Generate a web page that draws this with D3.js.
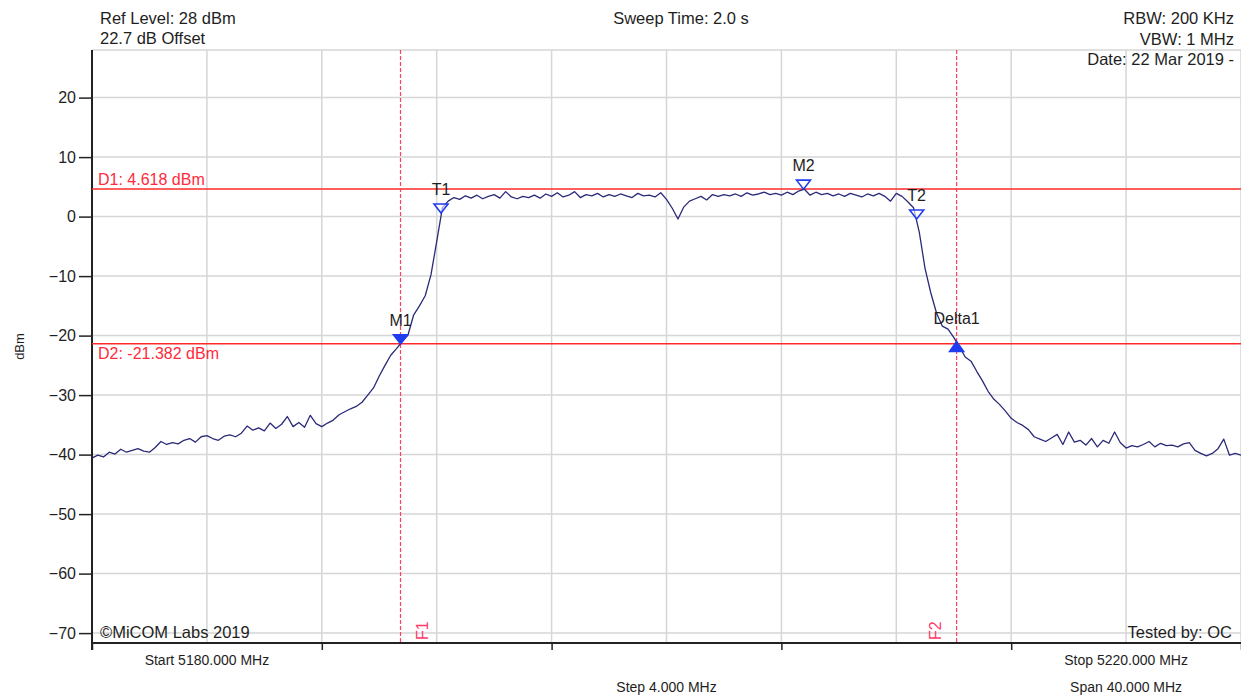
<!DOCTYPE html>
<html lang="en">
<head>
<meta charset="UTF-8">
<title>Spectrum Plot</title>
<script src="https://d3js.org/d3.v7.min.js"></script>
<style>
  body { margin: 0; background: #fff; font-family: "Liberation Sans", Arial, sans-serif; }
  svg text { fill: #1e1e1e; }
</style>
</head>
<body>
<svg width="1241" height="698"></svg>
<script>
// sweep: 5180 -> 5220 MHz, one reading every 0.2 MHz
const startMHz = 5180, stopMHz = 5220, stepMHz = 0.2;
const traceDbm = [
  -40.6, -40.1, -40.4, -39.6, -39.9, -39.1, -39.6, -39.3, -39.0, -39.4,
  -39.6, -38.8, -37.8, -38.3, -38.0, -38.2, -37.6, -37.3, -37.9, -37.0,
  -36.8, -37.3, -37.6, -36.9, -36.7, -37.0, -36.4, -35.2, -35.9, -35.5,
  -36.0, -34.7, -35.6, -34.9, -33.6, -35.3, -34.6, -35.4, -33.4, -34.8,
  -35.3, -34.7, -34.2, -33.3, -32.8, -32.3, -31.9, -31.2, -30.0, -28.8,
  -26.8, -25.0, -23.3, -22.2, -21.0, -19.9, -16.5, -15.0, -13.3, -9.8,
  -4.2, 1.5, 2.6, 3.2, 2.9, 3.5, 3.1, 3.6, 3.0, 3.4,
  3.7, 3.1, 4.2, 3.3, 3.0, 3.4, 3.2, 3.6, 3.1, 3.8,
  3.4, 4.0, 3.3, 3.6, 4.2, 3.2, 3.7, 3.5, 3.9, 3.3,
  3.7, 3.4, 3.8, 3.5, 3.2, 3.9, 3.5, 3.6, 3.3, 4.0,
  2.9, 1.4, -0.4, 1.6, 2.6, 3.0, 3.4, 2.8, 3.7, 3.4,
  3.7, 3.5, 3.8, 3.4, 4.0, 3.6, 3.8, 4.1, 3.7, 3.9,
  3.6, 4.1, 3.7, 4.3, 4.6, 3.6, 4.1, 3.7, 3.9, 3.5,
  3.8, 3.4, 3.9, 3.6, 3.3, 3.8, 3.5, 3.9, 3.4, 2.6,
  3.9, 3.4, 2.5, 1.5, -2.6, -8.7, -12.8, -16.2, -18.4, -18.9,
  -20.3, -21.9, -23.6, -24.3, -26.0, -27.6, -29.4, -30.7, -31.6, -32.7,
  -33.9, -34.6, -35.1, -35.8, -37.0, -37.4, -37.8, -37.2, -36.6, -38.3,
  -36.2, -37.9, -37.6, -38.4, -37.3, -38.7, -37.6, -38.1, -36.2, -38.0,
  -38.9, -38.5, -38.7, -38.3, -37.8, -38.7, -38.1, -38.5, -38.4, -38.7,
  -38.2, -38.0, -39.3, -39.8, -40.2, -39.8, -39.0, -37.4, -40.1, -39.8,
  -40.1
];

const yTicks = [20, 10, 0, -10, -20, -30, -40, -50, -60, -70];
const xGridMHz = [5180, 5184, 5188, 5192, 5196, 5200, 5204, 5208, 5212, 5216, 5220];
const xTickMHz = [5180, 5188, 5196, 5204, 5212, 5220];

const displayNames = ["D1: 4.618 dBm", "D2: -21.382 dBm"];
const displayDbm = [4.618, -21.382];
const freqNames = ["F1", "F2"];
const freqMHz = [5190.74, 5210.10];

const markerNames = ["M1", "T1", "M2", "T2", "Delta1"];
const markerMHz = [5190.74, 5192.15, 5204.77, 5208.71, 5210.10];
const markerDbm = [-21.382, 0.6, 4.618, -0.4, -21.0];
const markerKind = ["filled", "open", "open", "open", "up"];

const headerLeft = ["Ref Level: 28 dBm", "22.7 dB Offset"];
const headerCenter = "Sweep Time: 2.0 s";
const headerRight = ["RBW: 200 KHz", "VBW: 1 MHz", "Date: 22 Mar 2019 -"];
const footLeft = "\u00A9MiCOM Labs 2019";
const footRight = "Tested by: OC";
const axisNotes = [
  { mhz: 5184, row: 0, text: "Start 5180.000 MHz" },
  { mhz: 5200, row: 1, text: "Step 4.000 MHz" },
  { mhz: 5216, row: 0, text: "Stop 5220.000 MHz" },
  { mhz: 5216, row: 1, text: "Span 40.000 MHz" }
];

const svg = d3.select("svg");
const margin = { top: 50, right: 0, bottom: 55, left: 92 };
const width = +svg.attr("width"), height = +svg.attr("height");
const plotBottom = height - margin.bottom;

const x = d3.scaleLinear().domain([startMHz, stopMHz]).range([margin.left, width - margin.right]);
const y = d3.scaleLinear().domain([-72, 28]).range([plotBottom + 2, margin.top]);

// grid
const grid = svg.append("g").attr("stroke", "#d6d6d6").attr("stroke-width", 1.5);
grid.selectAll(".vg").data(xGridMHz).join("line")
  .attr("x1", d => x(d)).attr("x2", d => x(d))
  .attr("y1", margin.top).attr("y2", plotBottom);
grid.selectAll(".hg").data(yTicks.concat([28])).join("line")
  .attr("x1", margin.left).attr("x2", width)
  .attr("y1", d => y(d)).attr("y2", d => y(d));

// axes
const yAxis = svg.append("g")
  .attr("transform", `translate(${margin.left},0)`)
  .call(d3.axisLeft(y).tickValues(yTicks).tickSize(13).tickPadding(3));
yAxis.select(".domain").remove();
yAxis.selectAll("text").attr("font-size", 16).attr("font-family", "Liberation Sans, Arial, sans-serif").style("fill", "#1e1e1e");
yAxis.selectAll("line").attr("stroke", "#222").attr("stroke-width", 1.5);

const xAxis = svg.append("g")
  .attr("transform", `translate(0,${plotBottom})`)
  .call(d3.axisBottom(x).tickValues(xTickMHz).tickSize(7).tickFormat(""));
xAxis.select(".domain").remove();
xAxis.selectAll("line").attr("stroke", "#222").attr("stroke-width", 1.5);

svg.append("line").attr("x1", margin.left).attr("x2", margin.left)
  .attr("y1", margin.top).attr("y2", plotBottom + 7)
  .attr("stroke", "#222").attr("stroke-width", 2);
svg.append("line").attr("x1", margin.left).attr("x2", width)
  .attr("y1", plotBottom).attr("y2", plotBottom)
  .attr("stroke", "#222").attr("stroke-width", 2);

svg.append("text")
  .attr("transform", `translate(24,${(margin.top + plotBottom) / 2}) rotate(-90)`)
  .attr("text-anchor", "middle").attr("font-size", 13).text("dBm");

// display lines (D1, D2)
displayDbm.forEach((v, i) => {
  svg.append("line").attr("x1", margin.left).attr("x2", width)
    .attr("y1", y(v)).attr("y2", y(v))
    .attr("stroke", "#ff2a2a").attr("stroke-width", 1.5);
  svg.append("text").attr("x", margin.left + 6)
    .attr("y", i === 0 ? y(v) - 4 : y(v) + 15)
    .attr("font-size", 16).style("fill", "#ff2a3a").text(displayNames[i]);
});

// frequency lines (F1, F2)
freqMHz.forEach((f, i) => {
  svg.append("line").attr("x1", x(f)).attr("x2", x(f))
    .attr("y1", margin.top).attr("y2", plotBottom)
    .attr("stroke", "#ff4060").attr("stroke-width", 1.2)
    .attr("stroke-dasharray", "4,2");
  const tx = i === 0 ? x(f) + 27 : x(f) - 16;
  svg.append("text")
    .attr("transform", `translate(${tx},${plotBottom - 3}) rotate(-90)`)
    .attr("font-size", 16).style("fill", "#ff3a6a").text(freqNames[i]);
});

// trace
const traceData = traceDbm.map((v, i) => ({ mhz: startMHz + i * stepMHz, dbm: v }));
const line = d3.line().x(d => x(d.mhz)).y(d => y(d.dbm));
svg.append("path").datum(traceData)
  .attr("fill", "none").attr("stroke", "#2a2a78").attr("stroke-width", 1.3)
  .attr("stroke-linejoin", "round").attr("d", line);

// markers
markerNames.forEach((name, i) => {
  const mx = x(markerMHz[i]), my = y(markerDbm[i]);
  const pts = markerKind[i] === "up"
    ? [[mx, my], [mx - 7, my + 10], [mx + 7, my + 10]]
    : [[mx, my], [mx - 7, my - 9], [mx + 7, my - 9]];
  svg.append("path").attr("d", d3.line()(pts) + "Z")
    .attr("fill", markerKind[i] === "open" ? "rgba(255,255,255,0.6)" : "#1f3cf0")
    .attr("stroke", "#1f3cf0").attr("stroke-width", 1.6);
  svg.append("text").attr("x", mx).attr("y", my - 18)
    .attr("text-anchor", "middle").attr("font-size", 16).text(name);
});

// header / footer text
headerLeft.forEach((t, i) => svg.append("text").attr("x", 100).attr("y", 24 + i * 20)
  .attr("font-size", 16.5).text(t));
svg.append("text").attr("x", 681).attr("y", 24).attr("text-anchor", "middle")
  .attr("font-size", 16.5).text(headerCenter);
headerRight.forEach((t, i) => svg.append("text").attr("x", 1234).attr("y", 24 + i * 20.5)
  .attr("text-anchor", "end").attr("font-size", 16.5).text(t));
svg.append("text").attr("x", 100).attr("y", 638).attr("font-size", 16.5).text(footLeft);
svg.append("text").attr("x", 1232).attr("y", 638).attr("text-anchor", "end")
  .attr("font-size", 16.5).text(footRight);
axisNotes.forEach(n => svg.append("text").attr("x", x(n.mhz)).attr("y", 665 + n.row * 27)
  .attr("text-anchor", "middle").attr("font-size", 14).text(n.text));
</script>
</body>
</html>
